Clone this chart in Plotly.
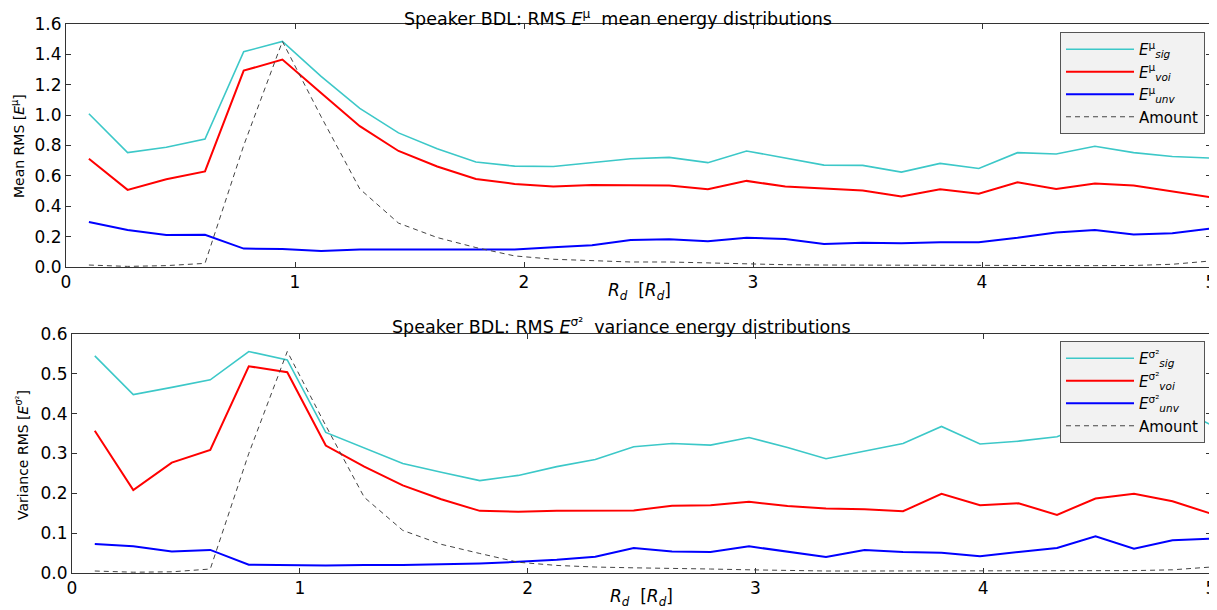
import plotly.graph_objects as go

# page body adds an 8px margin, so the figure is sized to fill the rest of the window
OFF = 8
W, H = 1217 - OFF, 610 - OFF

# x positions (R_d)
rd = [0.1, 0.269, 0.438, 0.607, 0.776, 0.945, 1.114, 1.283, 1.452, 1.621,
      1.790, 1.959, 2.128, 2.297, 2.466, 2.634, 2.803, 2.972, 3.141, 3.310,
      3.479, 3.648, 3.817, 3.986, 4.155, 4.324, 4.493, 4.662, 4.831, 5.0]
x_ticks = [0, 1, 2, 3, 4, 5]

# Mean energy (top)
mean_sig = [1.009, 0.753, 0.788, 0.843, 1.417, 1.485, 1.255, 1.044, 0.883, 0.779,
            0.691, 0.664, 0.662, 0.690, 0.713, 0.722, 0.687, 0.764, 0.717, 0.671,
            0.669, 0.625, 0.682, 0.649, 0.753, 0.744, 0.795, 0.753, 0.728, 0.717]
mean_voi = [0.713, 0.508, 0.578, 0.629, 1.293, 1.366, 1.145, 0.927, 0.764, 0.662,
            0.580, 0.547, 0.530, 0.540, 0.539, 0.536, 0.512, 0.567, 0.530, 0.517,
            0.503, 0.464, 0.512, 0.483, 0.558, 0.514, 0.550, 0.536, 0.499, 0.459]
mean_unv = [0.296, 0.243, 0.210, 0.212, 0.121, 0.119, 0.106, 0.115, 0.115, 0.115,
            0.113, 0.115, 0.130, 0.143, 0.177, 0.183, 0.170, 0.192, 0.185, 0.152,
            0.159, 0.157, 0.163, 0.163, 0.192, 0.227, 0.243, 0.214, 0.223, 0.254]
mean_amount = [0.013, 0.004, 0.009, 0.024, 0.800, 1.485, 0.990, 0.514, 0.289, 0.194,
               0.128, 0.073, 0.051, 0.040, 0.033, 0.033, 0.026, 0.022, 0.015, 0.013,
               0.012, 0.011, 0.010, 0.010, 0.009, 0.009, 0.009, 0.010, 0.018, 0.040]

# Variance energy (bottom)
var_sig = [0.545, 0.448, 0.466, 0.485, 0.556, 0.535, 0.353, 0.315, 0.275, 0.253,
           0.232, 0.245, 0.267, 0.285, 0.317, 0.325, 0.321, 0.340, 0.315, 0.287,
           0.306, 0.325, 0.368, 0.324, 0.331, 0.342, 0.380, 0.400, 0.420, 0.372]
var_voi = [0.357, 0.208, 0.277, 0.309, 0.519, 0.504, 0.320, 0.267, 0.220, 0.185,
           0.156, 0.154, 0.156, 0.156, 0.157, 0.169, 0.170, 0.179, 0.168, 0.162,
           0.160, 0.155, 0.199, 0.170, 0.175, 0.146, 0.187, 0.199, 0.180, 0.149]
var_unv = [0.073, 0.067, 0.054, 0.058, 0.021, 0.020, 0.019, 0.020, 0.020, 0.022,
           0.024, 0.028, 0.033, 0.041, 0.063, 0.054, 0.053, 0.067, 0.054, 0.040,
           0.058, 0.053, 0.051, 0.042, 0.053, 0.063, 0.092, 0.061, 0.082, 0.086]
var_amount = [0.005, 0.002, 0.003, 0.010, 0.300, 0.556, 0.370, 0.190, 0.107, 0.072,
              0.049, 0.027, 0.019, 0.015, 0.013, 0.012, 0.010, 0.008, 0.006, 0.005,
              0.005, 0.005, 0.005, 0.005, 0.005, 0.005, 0.005, 0.006, 0.008, 0.015]

top_names = ["<i>E</i><sup>μ</sup><sub><i>sig</i></sub>",
             "<i>E</i><sup>μ</sup><sub><i>voi</i></sub>",
             "<i>E</i><sup>μ</sup><sub><i>unv</i></sub>", "Amount"]
bot_names = ["<i>E</i><sup>σ²</sup><sub><i>sig</i></sub>",
             "<i>E</i><sup>σ²</sup><sub><i>voi</i></sub>",
             "<i>E</i><sup>σ²</sup><sub><i>unv</i></sub>", "Amount"]

COL_SIG = "#3cc8c8"
COL_VOI = "#ff0000"
COL_UNV = "#0000ff"
COL_AMT = "#444444"

FONT = "DejaVu Sans, Liberation Sans, sans-serif"

fig = go.Figure()

styles = [dict(color=COL_SIG, width=1.6), dict(color=COL_VOI, width=2),
          dict(color=COL_UNV, width=2), dict(color=COL_AMT, width=1, dash="5px,4px")]

for ys, nm, st in zip([mean_sig, mean_voi, mean_unv, mean_amount], top_names, styles):
    fig.add_trace(go.Scatter(x=rd, y=ys, mode="lines", name=nm, line=st,
                             xaxis="x", yaxis="y", legend="legend"))
for ys, nm, st in zip([var_sig, var_voi, var_unv, var_amount], bot_names, styles):
    fig.add_trace(go.Scatter(x=rd, y=ys, mode="lines", name=nm, line=st,
                             xaxis="x2", yaxis="y2", legend="legend2"))

def px_x(p):
    return (p - OFF) / W

def px_y(p):
    return 1 - (p - OFF) / H

axis_common = dict(showgrid=False, zeroline=False, showline=True, mirror="ticks",
                   linecolor="#333333", linewidth=1, ticks="inside", ticklen=5,
                   tickcolor="#333333", automargin=False, ticklabeloverflow="allow",
                   tickfont=dict(family=FONT, size=17, color="#000"))

leg_common = dict(xanchor="right", yanchor="top", bgcolor="#f2f2f2",
                  bordercolor="#555555", borderwidth=1, itemwidth=68,
                  font=dict(family=FONT, size=15, color="#000"), tracegroupgap=0)

fig.update_layout(
    width=W, height=H,
    margin=dict(l=0, r=0, t=0, b=0, autoexpand=False),
    paper_bgcolor="white", plot_bgcolor="white",
    font=dict(family=FONT, color="#000"),
    xaxis=dict(domain=[px_x(66), px_x(1211)], range=[0, 5], tickvals=x_ticks,
               anchor="y", **axis_common),
    yaxis=dict(domain=[px_y(267), px_y(24)], range=[0, 1.6], dtick=0.2,
               tickformat=".1f", anchor="x", **axis_common),
    xaxis2=dict(domain=[px_x(72), px_x(1211)], range=[0, 5], tickvals=x_ticks,
                anchor="y2", **axis_common),
    yaxis2=dict(domain=[px_y(573), px_y(334)], range=[0, 0.6], dtick=0.1,
                tickformat=".1f", anchor="x2", **axis_common),
    legend=dict(x=px_x(1205), y=px_y(32), **leg_common),
    legend2=dict(x=px_x(1205), y=px_y(341), **leg_common),
    showlegend=True,
)

annots = [
    dict(text="Speaker BDL: RMS <i>E</i><sup>μ</sup>  mean energy distributions",
         x=px_x(618), y=px_y(18), size=17.5),
    dict(text="Speaker BDL: RMS <i>E</i><sup>σ²</sup>  variance energy distributions",
         x=px_x(621), y=px_y(326), size=17.5),
    dict(text="<i>R</i><sub><i>d</i></sub>  [<i>R</i><sub><i>d</i></sub>]",
         x=px_x(639), y=px_y(291), size=17),
    dict(text="<i>R</i><sub><i>d</i></sub>  [<i>R</i><sub><i>d</i></sub>]",
         x=px_x(642), y=px_y(597), size=17),
    dict(text="Mean RMS [<i>E</i><sup>μ</sup>]", x=px_x(18), y=px_y(146),
         textangle=-90, size=14),
    dict(text="Variance RMS [<i>E</i><sup>σ²</sup>]", x=px_x(22), y=px_y(455),
         textangle=-90, size=14),
]
for a in annots:
    sz = a.pop("size")
    fig.add_annotation(xref="paper", yref="paper", showarrow=False,
                       xanchor="center", yanchor="middle",
                       font=dict(family=FONT, color="#000", size=sz), **a)

fig.write_html("out.html")
